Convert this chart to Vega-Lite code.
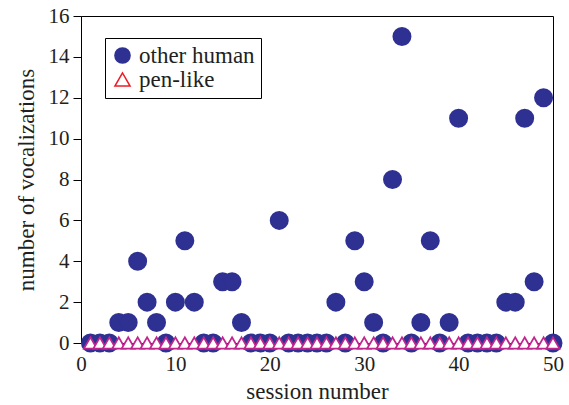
{
  "$schema": "https://vega.github.io/schema/vega-lite/v6.json",
  "width": 472,
  "height": 327,
  "autosize": {"type": "none"},
  "padding": {"left": 81, "top": 16, "right": 16, "bottom": 62},
  "background": "white",
  "config": {
    "font": "Liberation Serif",
    "view": {"stroke": "black", "strokeWidth": 1},
    "axis": {"labelFont": "Liberation Serif", "titleFont": "Liberation Serif", "labelFontSize": 21, "titleFontSize": 23, "titleFontWeight": "normal", "labelColor": "#231f20", "titleColor": "#231f20", "domainColor": "black", "tickColor": "black", "grid": false, "labelFlush": false},
    "legend": {"title": null, "orient": "none", "legendX": 24, "legendY": 22, "padding": 6, "strokeColor": "black", "fillColor": "white", "labelFontSize": 23, "labelFont": "Liberation Serif", "labelColor": "#231f20", "symbolSize": 230, "symbolStrokeWidth": 1.5, "rowPadding": 0, "labelOffset": 5}
  },
  "data": {"values": [
    {"session": 1, "other human": 0, "pen-like": 0}, {"session": 2, "other human": 0, "pen-like": 0}, {"session": 3, "other human": 0, "pen-like": 0},
    {"session": 4, "other human": 1, "pen-like": 0}, {"session": 5, "other human": 1, "pen-like": 0}, {"session": 6, "other human": 4, "pen-like": 0},
    {"session": 7, "other human": 2, "pen-like": 0}, {"session": 8, "other human": 1, "pen-like": 0}, {"session": 9, "other human": 0, "pen-like": 0},
    {"session": 10, "other human": 2, "pen-like": 0}, {"session": 11, "other human": 5, "pen-like": 0}, {"session": 12, "other human": 2, "pen-like": 0},
    {"session": 13, "other human": 0, "pen-like": 0}, {"session": 14, "other human": 0, "pen-like": 0}, {"session": 15, "other human": 3, "pen-like": 0},
    {"session": 16, "other human": 3, "pen-like": 0}, {"session": 17, "other human": 1, "pen-like": 0}, {"session": 18, "other human": 0, "pen-like": 0},
    {"session": 19, "other human": 0, "pen-like": 0}, {"session": 20, "other human": 0, "pen-like": 0}, {"session": 21, "other human": 6, "pen-like": 0},
    {"session": 22, "other human": 0, "pen-like": 0}, {"session": 23, "other human": 0, "pen-like": 0}, {"session": 24, "other human": 0, "pen-like": 0},
    {"session": 25, "other human": 0, "pen-like": 0}, {"session": 26, "other human": 0, "pen-like": 0}, {"session": 27, "other human": 2, "pen-like": 0},
    {"session": 28, "other human": 0, "pen-like": 0}, {"session": 29, "other human": 5, "pen-like": 0}, {"session": 30, "other human": 3, "pen-like": 0},
    {"session": 31, "other human": 1, "pen-like": 0}, {"session": 32, "other human": 0, "pen-like": 0}, {"session": 33, "other human": 8, "pen-like": 0},
    {"session": 34, "other human": 15, "pen-like": 0}, {"session": 35, "other human": 0, "pen-like": 0}, {"session": 36, "other human": 1, "pen-like": 0},
    {"session": 37, "other human": 5, "pen-like": 0}, {"session": 38, "other human": 0, "pen-like": 0}, {"session": 39, "other human": 1, "pen-like": 0},
    {"session": 40, "other human": 11, "pen-like": 0}, {"session": 41, "other human": 0, "pen-like": 0}, {"session": 42, "other human": 0, "pen-like": 0},
    {"session": 43, "other human": 0, "pen-like": 0}, {"session": 44, "other human": 0, "pen-like": 0}, {"session": 45, "other human": 2, "pen-like": 0},
    {"session": 46, "other human": 2, "pen-like": 0}, {"session": 47, "other human": 11, "pen-like": 0}, {"session": 48, "other human": 3, "pen-like": 0},
    {"session": 49, "other human": 12, "pen-like": 0}, {"session": 50, "other human": 0, "pen-like": 0}
  ]},
  "transform": [{"fold": ["other human", "pen-like"], "as": ["series", "count"]}],
  "layer": [
    {
      "transform": [{"filter": "datum.series === 'other human'"}],
      "mark": {"type": "point", "filled": true, "size": 289, "opacity": 1, "clip": false},
      "encoding": {
        "x": {"field": "session", "type": "quantitative", "scale": {"domain": [0, 50], "nice": false}, "axis": {"title": "session number", "values": [0, 10, 20, 30, 40, 50], "ticks": false, "labelPadding": 10, "titlePadding": 6}},
        "y": {"field": "count", "type": "quantitative", "scale": {"domain": [0, 16], "nice": false}, "axis": {"title": "number of vocalizations", "values": [0, 2, 4, 6, 8, 10, 12, 14, 16], "tickSize": 8, "labelPadding": 4, "titlePadding": 10}},
        "shape": {"field": "series", "type": "nominal", "scale": {"domain": ["other human", "pen-like"], "range": ["circle", "triangle-up"]}},
        "fill": {"field": "series", "type": "nominal", "scale": {"domain": ["other human", "pen-like"], "range": ["#2e3192", "white"]}},
        "stroke": {"field": "series", "type": "nominal", "scale": {"domain": ["other human", "pen-like"], "range": ["#2e3192", "#ed1c24"]}}
      }
    },
    {
      "transform": [{"filter": "datum.series === 'pen-like'"}],
      "mark": {"type": "point", "shape": "triangle-up", "filled": false, "fill": "white", "fillOpacity": 1, "stroke": "#c0258f", "strokeWidth": 1.8, "size": 170, "opacity": 1, "clip": false},
      "encoding": {
        "x": {"field": "session", "type": "quantitative"},
        "y": {"field": "count", "type": "quantitative"}
      }
    }
  ]
}
